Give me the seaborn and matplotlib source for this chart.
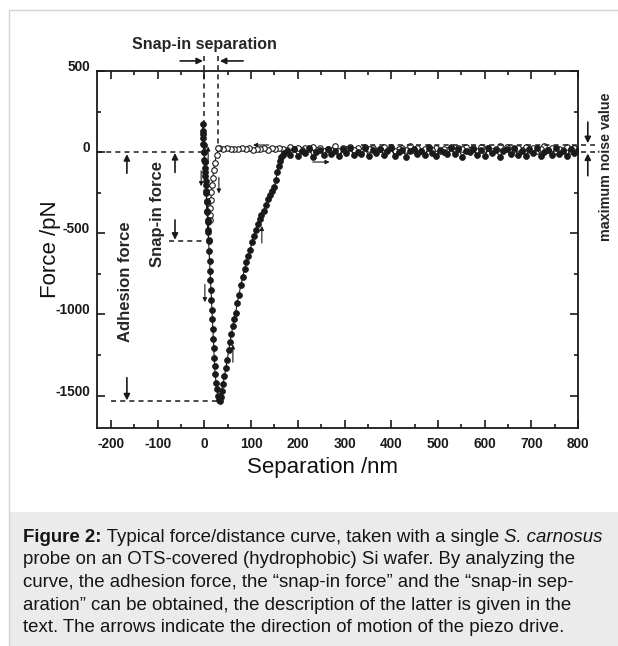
import numpy as np
import pandas as pd
import matplotlib
matplotlib.use("Agg")
import matplotlib.pyplot as plt
import seaborn as sns
from matplotlib.ticker import MultipleLocator
from matplotlib.patches import Rectangle
from matplotlib.lines import Line2D

# ---------------- data ----------------
# approach curve (open circles), flat part from 800 nm down to 32 nm
approach_flat_x = [800, 792, 784, 776, 768, 760, 752, 744, 736, 728,
                   720, 712, 704, 696, 688, 680, 672, 664, 656, 648,
                   640, 632, 624, 616, 608, 600, 592, 584, 576, 568,
                   560, 552, 544, 536, 528, 520, 512, 504, 496, 488,
                   480, 472, 464, 456, 448, 440, 432, 424, 416, 408,
                   400, 392, 384, 376, 368, 360, 352, 344, 336, 328,
                   320, 312, 304, 296, 288, 280, 272, 264, 256, 248,
                   240, 232, 224, 216, 208, 200, 192, 184, 176, 168,
                   160, 152, 144, 136, 128, 120, 112, 104, 96, 88,
                   80, 72, 64, 56, 48, 40, 32]
approach_flat_y = [18, 25, 10, 30, 15, 22, 5, 28, 12, 35,
                   20, 8, 26, 16, 32, 11, 24, 19, 3, 29,
                   14, 36, 21, 9, 27, 17, 33, 6, 23, 13,
                   30, 18, 25, 10, 34, 15, 22, 7, 28, 12,
                   31, 20, 4, 26, 16, 37, 11, 24, 19, 8,
                   29, 14, 33, 21, 9, 27, 17, 32, 6, 23,
                   13, 30, 18, 25, 10, 35, 15, 22, 7, 28,
                   12, 31, 20, 26, 16, 24, 19, 29, 14, 21,
                   27, 17, 23, 13, 25, 18, 22, 15, 26, 20,
                   24, 17, 22, 19, 25, 21, 28]
# snap-in jump of the approach curve
approach_snap_x = [30, 26, 22, 20, 18, 16, 15, 14, 13, 13, 13]
approach_snap_y = [25, -18, -67, -110, -160, -202, -245, -294, -343, -386, -417]

# contact + retraction curve (filled circles)
contact_x = [9, 8, 7, 6, 5, 4, 3, 2, 1, 0, -1, -2, -3, -4]
contact_y = [-540, -480, -420, -360, -300, -240, -180, -120, -60, 0, 45, 90, 130, 172]
retract_down_x = [-3, -2, -1, 0, 1, 2, 3, 4, 5, 6,
                  7, 8, 9, 10, 11, 12, 13, 14, 15, 16,
                  17, 18, 19, 20, 21, 22, 23, 25, 27, 29,
                  31, 33]
retract_down_y = [110, 50, 0, -50, -100, -150, -200, -250, -310, -370,
                  -430, -490, -550, -610, -670, -730, -790, -850, -910, -970,
                  -1030, -1090, -1150, -1210, -1270, -1320, -1370, -1420, -1460, -1500,
                  -1525, -1535]
retract_up_x = [35, 37, 40, 43, 46, 49, 52, 55, 58, 61,
                64, 67, 70, 74, 78, 82, 86, 90, 94, 98,
                102, 106, 110, 114, 118, 122, 127, 132, 136, 140,
                145, 150, 153, 156, 159, 162, 165, 168, 171]
retract_up_y = [-1510, -1470, -1430, -1380, -1330, -1280, -1220, -1170, -1120, -1070,
                -1030, -990, -930, -880, -820, -770, -720, -680, -640, -600,
                -555, -515, -480, -445, -415, -390, -360, -325, -290, -265,
                -240, -215, -170, -125, -85, -55, -30, -15, -5]
retract_flat_x = [176, 184, 192, 200, 208, 216, 224, 232, 240, 248,
                  256, 264, 272, 280, 288, 296, 304, 312, 320, 328,
                  336, 344, 352, 360, 368, 376, 384, 392, 400, 408,
                  416, 424, 432, 440, 448, 456, 464, 472, 480, 488,
                  496, 504, 512, 520, 528, 536, 544, 552, 560, 568,
                  576, 584, 592, 600, 608, 616, 624, 632, 640, 648,
                  656, 664, 672, 680, 688, 696, 704, 712, 720, 728,
                  736, 744, 752, 760, 768, 776, 784, 792, 800]
retract_flat_y = [5, -15, 20, -22, 10, -8, 25, -28, 0, 15,
                  -18, 22, -12, 8, -25, 18, -5, 28, -20, 3,
                  -10, 24, -26, 12, -3, 20, -16, 6, 26, -22,
                  0, 16, -28, 10, 22, -12, 4, -20, 27, -6,
                  -24, 14, 2, -14, 25, -9, 18, -27, 7, -2,
                  21, -17, 11, -23, 28, -4, 15, -30, 9, 19,
                  -11, 23, -19, 5, -26, 17, -7, 26, -21, 1,
                  13, -15, 24, -9, 8, -25, 20, -3, 12]

x_ticks = [-200, -100, 0, 100, 200, 300, 400, 500, 600, 700, 800]
y_ticks = [-1500, -1000, -500, 0, 500]
x_label = "Separation /nm"
y_label = "Force /pN"

caption_lines = [
    "probe on an OTS-covered (hydrophobic) Si wafer. By analyzing the",
    "curve, the adhesion force, the \u201csnap-in force\u201d and the \u201csnap-in sep-",
    "aration\u201d can be obtained, the description of the latter is given in the",
    "text. The arrows indicate the direction of motion of the piezo drive.",
]

approach = pd.DataFrame({"x": approach_flat_x + approach_snap_x,
                         "y": approach_flat_y + approach_snap_y})
retract = pd.DataFrame({"x": contact_x + retract_down_x + retract_up_x + retract_flat_x,
                        "y": contact_y + retract_down_y + retract_up_y + retract_flat_y})

# ---------------- figure ----------------
sns.set_theme(style="ticks")
plt.rcParams["font.family"] = ["Liberation Sans", "DejaVu Sans"]
plt.rcParams["axes.unicode_minus"] = False

W, H = 618, 646
fig = plt.figure(figsize=(W / 100, H / 100), dpi=100)
fig.patch.set_facecolor("white")
ax = fig.add_axes([97 / W, 1 - 428 / H, 481 / W, 357 / H])
ax.set_facecolor("white")

sns.lineplot(data=approach, x="x", y="y", sort=False, estimator=None, ax=ax,
             color="k", lw=0.8, marker="o", markersize=4.0,
             markerfacecolor="white", markeredgecolor="k", markeredgewidth=0.8,
             zorder=3)
sns.lineplot(data=retract, x="x", y="y", sort=False, estimator=None, ax=ax,
             color="k", lw=0.8, marker="o", markersize=4.3,
             markerfacecolor="k", markeredgecolor="k", markeredgewidth=0.5,
             zorder=4)

ax.set_xlim(-230, 800)
ax.set_ylim(-1700, 500)
ax.set_xticks(x_ticks)
ax.set_yticks(y_ticks)
ax.xaxis.set_minor_locator(MultipleLocator(50))
ax.yaxis.set_minor_locator(MultipleLocator(250))
ax.tick_params(which="both", direction="in", top=True, right=True,
               labeltop=False, labelright=False, color="k", width=1.2)
ax.tick_params(which="major", length=5.5)
ax.tick_params(which="minor", length=3)
ax.tick_params(axis="x", pad=6.5)
ax.tick_params(axis="y", pad=5)
for lab in ax.get_xticklabels() + ax.get_yticklabels():
    lab.set_fontweight("bold")
    lab.set_fontsize(9.8)
    lab.set_color("k")
for lab in ax.get_yticklabels():
    lab.set_verticalalignment("baseline")
for s in ax.spines.values():
    s.set_linewidth(1.3)
    s.set_color("k")

ax.set_xlabel(x_label, fontsize=16, color="#111111")
ax.set_ylabel(y_label, fontsize=16, color="#111111")
ax.xaxis.set_label_coords(0.468, -0.082)
ax.yaxis.set_label_coords(-0.075, 0.5)

# ---------------- annotations ----------------
DASH = (0, (3.3, 2.7))


def dline(xs, ys):
    ax.plot(xs, ys, ls=DASH, color="k", lw=1.1, clip_on=False, zorder=5)


def arrow(x0, y0, x1, y1, lw=1.2, ms=9):
    ax.annotate("", xy=(x1, y1), xytext=(x0, y0),
                arrowprops=dict(arrowstyle="-|>", color="k", lw=lw,
                                shrinkA=0, shrinkB=0, mutation_scale=ms),
                annotation_clip=False, zorder=6)


# snap-in separation
dline([0, 0], [590, 0])
dline([29, 29], [590, 30])
arrow(-52, 562, -3, 562)
arrow(83, 562, 33, 562)
ax.text(0, 665, "Snap-in separation", ha="center", va="center",
        fontsize=11.5, fontweight="bold", clip_on=False)

# zero line, snap-in force, adhesion force
dline([-230, -3], [0, 0])
dline([-75, 0], [-545, -545])
dline([-200, 32], [-1535, -1535])
arrow(-166, -130, -166, -12)
arrow(-166, -1390, -166, -1530)
arrow(-63, -125, -63, -5)
arrow(-63, -418, -63, -540)
ax.text(-170, -800, "Adhesion force", rotation=90, ha="center", va="center",
        fontsize=12, fontweight="bold", clip_on=False)
ax.text(-101, -381, "Snap-in force", rotation=90, ha="center", va="center",
        fontsize=12, fontweight="bold", clip_on=False)

# maximum noise value
dline([336, 836], [45, 45])
dline([806, 836], [0, 0])
arrow(821, 185, 821, 55)
arrow(821, -145, 821, -8)
ax.text(860, -92, "maximum noise value", rotation=90, ha="center", va="center",
        fontsize=10.3, fontweight="bold", clip_on=False)

# small direction arrows along the curves
arrow(-7, -115, -7, -210, lw=0.8, ms=6)
arrow(8, -70, 8, 35, lw=0.8, ms=6)
arrow(31, -155, 31, -255, lw=0.8, ms=6)
arrow(138, 44, 104, 44, lw=0.8, ms=6)
arrow(232, -61, 268, -61, lw=0.8, ms=6)
arrow(123, -560, 123, -455, lw=0.8, ms=6)
arrow(1, -815, 1, -925, lw=0.8, ms=6)
arrow(61, -1295, 61, -1185, lw=0.8, ms=6)

# ---------------- frame and caption box ----------------
fig.add_artist(Rectangle((8.5 / W, 0), 1 - 8.5 / W, (H - 512) / H,
                         transform=fig.transFigure, facecolor="#ebebeb",
                         edgecolor="none", zorder=0))
fig.add_artist(Line2D([8.5 / W, 1], [1 - 9.5 / H, 1 - 9.5 / H],
                      transform=fig.transFigure, color="#d4d4d4", lw=1))
fig.add_artist(Line2D([8.5 / W, 8.5 / W], [0, 1 - 9.5 / H],
                      transform=fig.transFigure, color="#d4d4d4", lw=1))

fig.canvas.draw()
rend = fig.canvas.get_renderer()

# fit caption font size to the measured line width
probe = fig.text(0, 0, caption_lines[0], fontsize=12)
w12 = probe.get_window_extent(renderer=rend).width
probe.remove()
fs = 12 * 553 / w12

x0 = 23
base = [542, 564.5, 587, 609.5, 632]
tcol = "#151515"


def put(x, y, s, **kw):
    t = fig.text(x / W, 1 - y / H, s, fontsize=fs, color=tcol,
                 ha="left", va="baseline", **kw)
    return x + t.get_window_extent(renderer=rend).width


x = put(x0, base[0], "Figure 2:", fontweight="bold")
x = put(x, base[0], " Typical force/distance curve, taken with a single ")
put(x, base[0], "S. carnosus", fontstyle="italic")
for i, line in enumerate(caption_lines):
    put(x0, base[i + 1], line)

fig.savefig("out.png", dpi=100)
